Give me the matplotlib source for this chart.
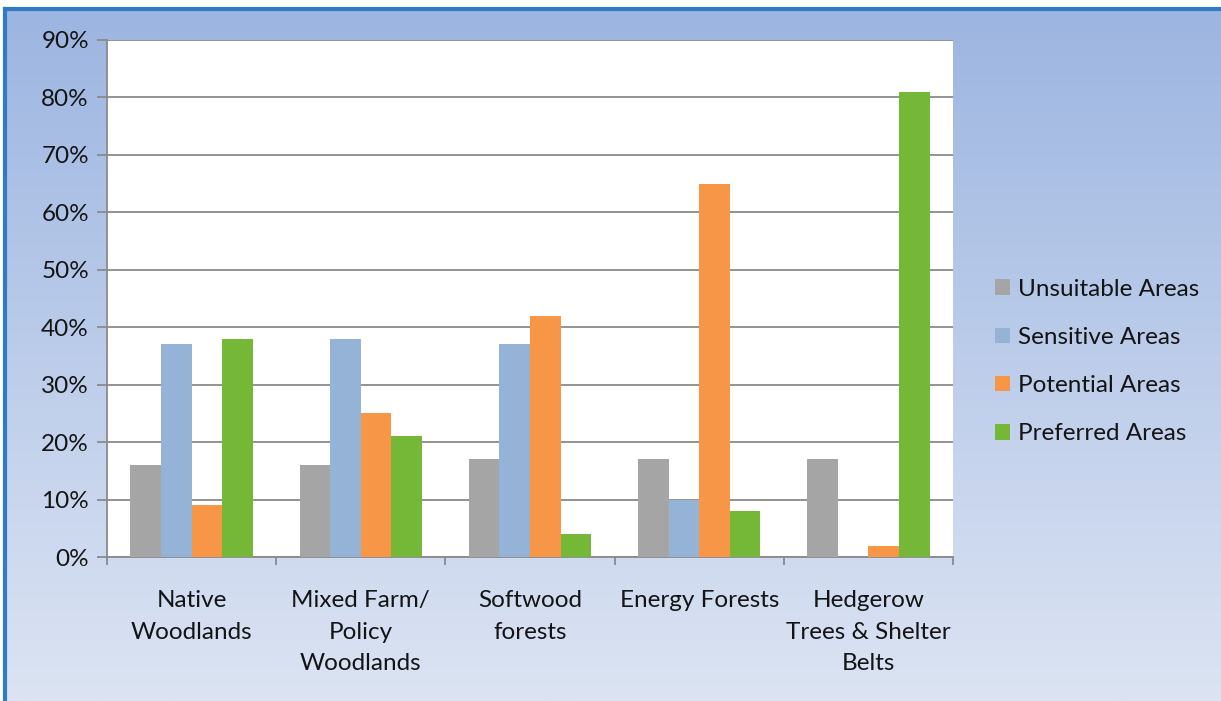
import numpy as np
import matplotlib.pyplot as plt
from matplotlib.colors import LinearSegmentedColormap
from matplotlib.lines import Line2D

categories = ['Native\nWoodlands', 'Mixed Farm/\nPolicy\nWoodlands', 'Softwood\nforests',
              'Energy Forests', 'Hedgerow\nTrees & Shelter\nBelts']
series_names = ['Unsuitable Areas', 'Sensitive Areas', 'Potential Areas', 'Preferred Areas']
unsuitable = [16, 16, 17, 17, 17]
sensitive = [37, 38, 37, 10, 0]
potential = [9, 25, 42, 65, 2]
preferred = [38, 21, 4, 8, 81]
y_ticks = [0, 10, 20, 30, 40, 50, 60, 70, 80, 90]

colors = ['#a5a5a5', '#95b3d7', '#f79646', '#75b837']
font = ['Lato', 'DejaVu Sans']
plt.rcParams['font.family'] = font
fs = 17.5
txt = '#141414'

fig = plt.figure(figsize=(12.21, 7.01), dpi=100)
fig.patch.set_facecolor('white')

# gradient background panel
bg = fig.add_axes([5 / 1221, 0, 1 - 5 / 1221, 1 - 9 / 701])
bg.set_axis_off()
grad = np.linspace(0, 1, 256).reshape(-1, 1)
cmap = LinearSegmentedColormap.from_list('bg', ['#9cb5e1', '#dce4f3'])
bg.imshow(grad, aspect='auto', cmap=cmap, extent=[0, 1, 0, 1], origin='upper')
bg.set_xlim(0, 1)
bg.set_ylim(0, 1)
fig.add_artist(Line2D([5 / 1221, 5 / 1221], [0, 1 - 9 / 701], color='#2f7bc8', lw=3))
fig.add_artist(Line2D([5 / 1221, 1], [1 - 9 / 701, 1 - 9 / 701], color='#2f7bc8', lw=3))

ax = fig.add_axes([107 / 1221, 1 - 557 / 701, (953 - 107) / 1221, (557 - 40) / 701])
ax.set_facecolor('white')

x = np.arange(len(categories))
w = 0.181
data = [unsuitable, sensitive, potential, preferred]
for i, (vals, name, c) in enumerate(zip(data, series_names, colors)):
    ax.bar(x + (i - 1.5) * w, vals, width=w, color=c, label=name, zorder=3)

ax.set_xlim(-0.5, len(categories) - 0.5)
ax.set_ylim(0, 90)
ax.set_yticks(y_ticks)
ax.set_yticklabels([f'{v}%' for v in y_ticks], fontsize=fs, color=txt)
ax.grid(axis='y', color='#8a8a8a', lw=1.3, zorder=1)
ax.set_xticks(np.arange(-0.5, len(categories), 1))
ax.set_xticklabels([])
ax.set_xticks(x, minor=True)
ax.set_xticklabels(categories, minor=True, fontsize=fs, color=txt, linespacing=1.6)
ax.tick_params(axis='x', which='minor', length=0, pad=24)
ax.tick_params(axis='x', which='major', length=6, color='#8a8a8a', width=1.3)
ax.tick_params(axis='y', length=7, color='#8a8a8a', width=1.3, pad=6)
for s in ['top', 'right']:
    ax.spines[s].set_visible(False)
for s in ['left', 'bottom']:
    ax.spines[s].set_color('#8a8a8a')
    ax.spines[s].set_linewidth(1.3)

ax.legend(loc='center left', bbox_to_anchor=(1.05, 0.378), frameon=False, fontsize=fs,
          handlelength=0.6, handleheight=0.6, handletextpad=0.35, labelspacing=1.12,
          borderaxespad=0, borderpad=0, labelcolor=txt)

fig.savefig('out.png', dpi=100)
